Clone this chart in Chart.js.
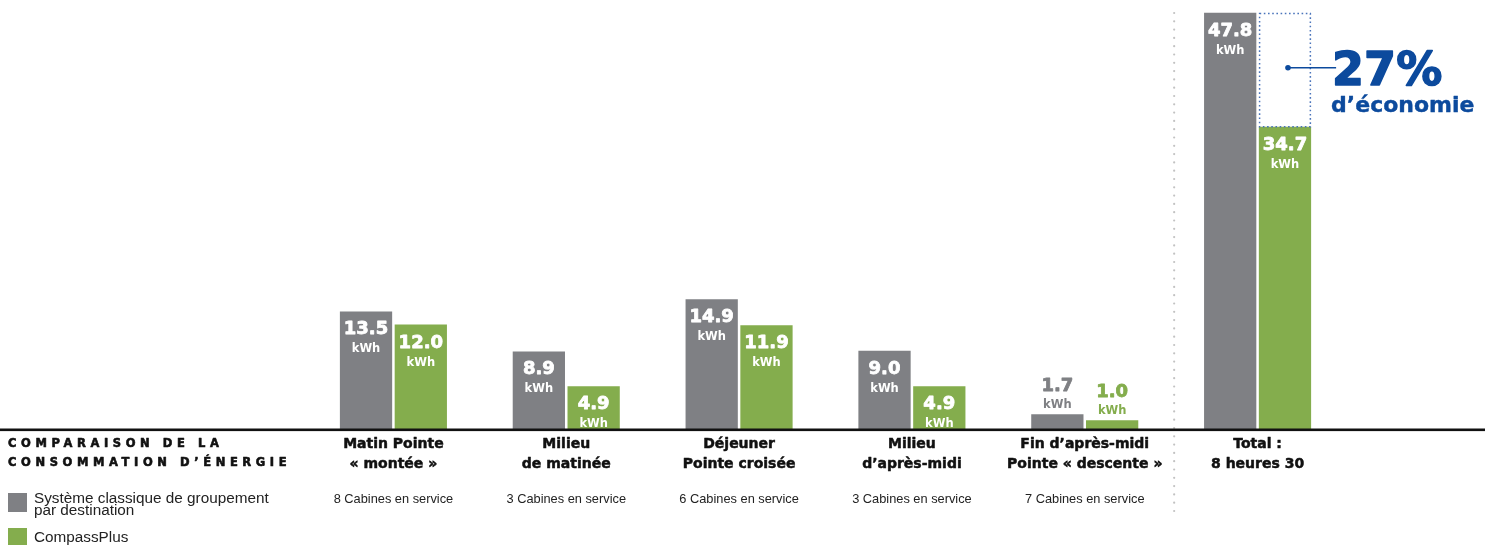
<!DOCTYPE html>
<html lang="fr">
<head>
<meta charset="utf-8">
<title>Comparaison de la consommation d'énergie</title>
<script src="https://cdn.jsdelivr.net/npm/chart.js@4.4.1/dist/chart.umd.min.js"></script>
<style>
    html, body { margin: 0; padding: 0; background: #fff; }
    #wrap { position: relative; width: 1485px; height: 545px; }
</style>
</head>
<body>
<div id="wrap"><canvas id="energyChart"></canvas></div>
<script>
// Data
const categories = [
    ['Matin Pointe', '« montée »'],
    ['Milieu', 'de matinée'],
    ['Déjeuner', 'Pointe croisée'],
    ['Milieu', 'd’après-midi'],
    ['Fin d’après-midi', 'Pointe « descente »'],
    ['Total :', '8 heures 30']
];
const cabines = [
    '8 Cabines en service',
    '3 Cabines en service',
    '6 Cabines en service',
    '3 Cabines en service',
    '7 Cabines en service',
    ''
];
const classique = [13.5, 8.9, 14.9, 9.0, 1.7, 47.8];
const compassPlus = [12.0, 4.9, 11.9, 4.9, 1.0, 34.7];
const seriesNames = ['Système classique de groupement|par destination', 'CompassPlus'];
const titleLines = ['COMPARAISON DE LA', 'CONSOMMATION D’ÉNERGIE'];
const savingValue = '27%';
const savingText = 'd’économie';
const unit = 'kWh';

const GRAY = '#7f8084';
const GREEN = '#84ad4d';
const BLUE = '#0c4a9d';
const FONT = '"Liberation Sans", Arial, Helvetica, sans-serif';
const HEAVY = '"DejaVu Sans", "Liberation Sans", sans-serif';

// fill + thin stroke in the same colour, to get a heavier weight
function heavyText(ctx, text, x, y, extra) {
    ctx.fillText(text, x, y);
    if (extra) {
        ctx.strokeStyle = ctx.fillStyle;
        ctx.lineWidth = extra;
        ctx.lineJoin = 'round';
        ctx.strokeText(text, x, y);
    }
}

// Draws everything that is not a bar: value labels, axis, title, legend, annotation
const decorPlugin = {
    id: 'decor',
    afterDatasetsDraw(chart) {
        const ctx = chart.ctx;
        const y = chart.scales.y;
        const colors = [GRAY, GREEN];

        // value labels in / above each bar
        ctx.save();
        ctx.textAlign = 'center';
        chart.data.datasets.forEach((ds, di) => {
            const meta = chart.getDatasetMeta(di);
            meta.data.forEach((bar, i) => {
                const v = ds.data[i];
                const inside = v >= 3;
                const top = bar.y;
                ctx.fillStyle = inside ? '#fff' : colors[di];
                const vy = inside ? top + 23 : top - 23;
                const ky = inside ? top + 41 : top - 6;
                ctx.font = `bold 18px ${HEAVY}`;
                heavyText(ctx, v.toFixed(1), bar.x, vy, 0.8);
                ctx.font = `bold 11.5px ${HEAVY}`;
                heavyText(ctx, unit, bar.x, ky, 0);
            });
        });
        ctx.restore();

        // dotted box showing the saving on the total
        const last = categories.length - 1;
        const greenBar = chart.getDatasetMeta(1).data[last];
        const half = greenBar.width / 2;
        const yTop = y.getPixelForValue(classique[last]);
        const yLow = y.getPixelForValue(compassPlus[last]);
        ctx.save();
        ctx.strokeStyle = '#4a74bb';
        ctx.lineWidth = 1.5;
        ctx.setLineDash([1.6, 2.6]);
        ctx.strokeRect(greenBar.x - half + 0.75, yTop + 0.75, greenBar.width - 1.5, yLow - yTop - 0.75);
        ctx.restore();

        // annotation 27% d'économie
        const dotX = greenBar.x + 3;
        const dotY = (yTop + yLow) / 2 - 2;
        const textX = greenBar.x + half + 21;
        ctx.save();
        ctx.fillStyle = BLUE;
        ctx.strokeStyle = BLUE;
        ctx.lineWidth = 1.5;
        ctx.beginPath();
        ctx.arc(dotX, dotY, 2.8, 0, Math.PI * 2);
        ctx.fill();
        ctx.beginPath();
        ctx.moveTo(dotX, dotY);
        ctx.lineTo(textX + 4, dotY);
        ctx.stroke();
        ctx.textAlign = 'left';
        ctx.font = `bold 46px ${HEAVY}`;
        heavyText(ctx, savingValue, textX, dotY + 17, 1.5);
        ctx.font = `bold 22px ${HEAVY}`;
        heavyText(ctx, savingText, textX - 1, dotY + 44, 0.4);
        ctx.restore();
    },
    afterDraw(chart) {
        const ctx = chart.ctx;
        const x = chart.scales.x;
        const area = chart.chartArea;
        const base = area.bottom;
        const W = chart.width;

        // dotted separator before the total
        const sepX = (x.getPixelForValue(categories.length - 2) + x.getPixelForValue(categories.length - 1)) / 2 + 3;
        ctx.save();
        ctx.fillStyle = '#c2c2c2';
        for (let yy = 13; yy <= 514; yy += 8.3) {
            ctx.beginPath();
            ctx.arc(sepX, yy, 1.1, 0, Math.PI * 2);
            ctx.fill();
        }
        ctx.restore();

        // base line
        ctx.save();
        ctx.fillStyle = '#111';
        ctx.fillRect(0, base - 0.5, W, 2.6);
        ctx.restore();

        // category labels
        ctx.save();
        ctx.textAlign = 'center';
        categories.forEach((lines, i) => {
            const cx = x.getPixelForValue(i);
            ctx.fillStyle = '#111';
            ctx.font = `bold 14px ${HEAVY}`;
            heavyText(ctx, lines[0], cx, base + 19, 0.5);
            heavyText(ctx, lines[1], cx, base + 39, 0.5);
            if (cabines[i]) {
                ctx.font = `12.8px ${FONT}`;
                ctx.fillStyle = '#222';
                ctx.fillText(cabines[i], cx, base + 74);
            }
        });
        ctx.restore();

        // title
        ctx.save();
        ctx.fillStyle = '#111';
        ctx.textAlign = 'left';
        ctx.font = `bold 11.5px ${HEAVY}`;
        ctx.letterSpacing = '4.6px';
        heavyText(ctx, titleLines[0], 8, base + 18, 0.6);
        heavyText(ctx, titleLines[1], 8, base + 37, 0.6);
        ctx.restore();

        // legend
        ctx.save();
        ctx.textAlign = 'left';
        ctx.fillStyle = GRAY;
        ctx.fillRect(8, 493, 19, 19);
        ctx.fillStyle = GREEN;
        ctx.fillRect(8, 528, 19, 17);
        ctx.fillStyle = '#222';
        ctx.font = `15.3px ${FONT}`;
        const first = seriesNames[0].split('|');
        ctx.fillText(first[0], 34, 503);
        ctx.fillText(first[1], 34, 515);
        ctx.fillText(seriesNames[1], 34, 542);
        ctx.restore();
    }
};

const ctx = document.getElementById('energyChart').getContext('2d');
const energyChart = new Chart(ctx, {
    type: 'bar',
    data: {
        labels: categories.map(c => c.join(' ')),
        datasets: [
            {
                label: seriesNames[0].replace('|', ' '),
                data: classique,
                backgroundColor: GRAY,
                borderWidth: 0
            },
            {
                label: seriesNames[1],
                data: compassPlus,
                backgroundColor: GREEN,
                borderWidth: 0
            }
        ]
    },
    options: {
        responsive: true,
        maintainAspectRatio: false,
        animation: false,
        layout: {
            padding: { left: 307, right: 141, top: 11, bottom: 116 }
        },
        datasets: {
            bar: {
                categoryPercentage: 0.634,
                barPercentage: 0.954
            }
        },
        plugins: {
            legend: { display: false },
            title: { display: false },
            tooltip: { enabled: false }
        },
        scales: {
            x: { display: false, grid: { display: false } },
            y: { display: false, min: 0, max: 48, grid: { display: false } }
        }
    },
    plugins: [decorPlugin]
});
</script>
</body>
</html>
